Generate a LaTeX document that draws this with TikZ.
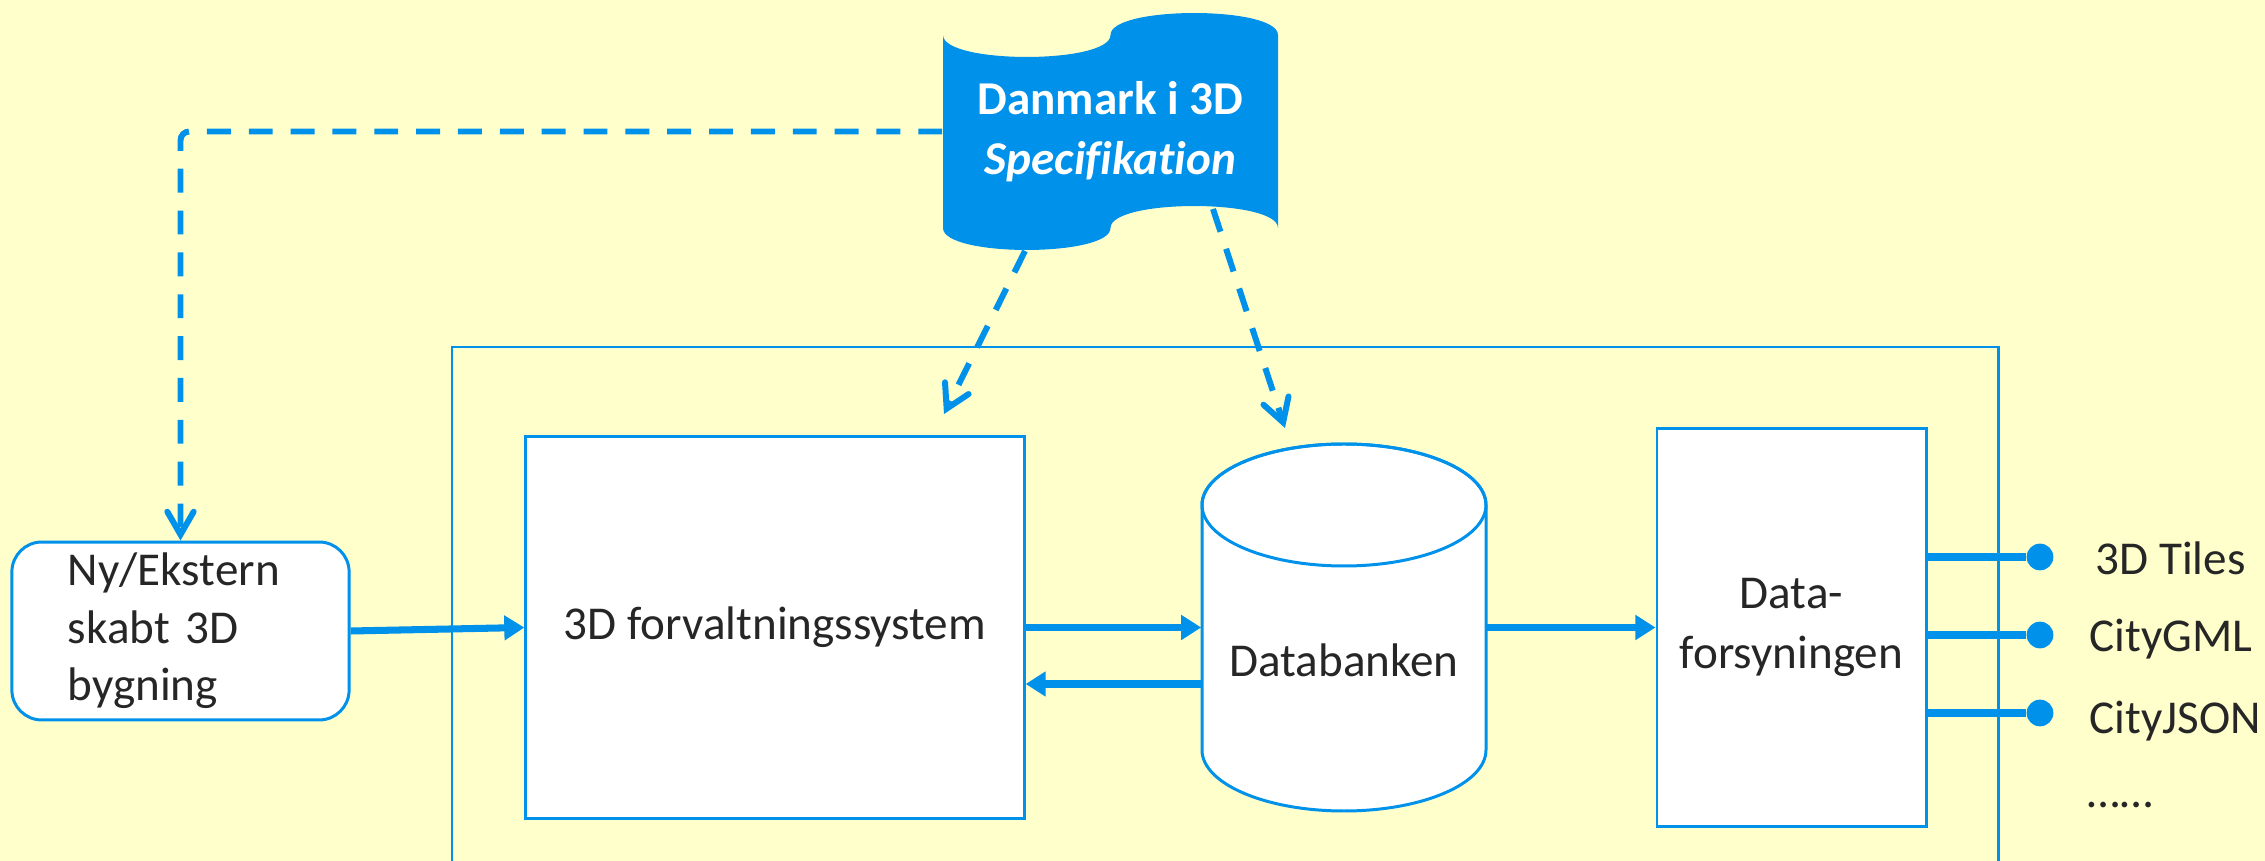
\documentclass[tikz,border=0pt]{standalone}
\usepackage{fontspec}
\setmainfont{Carlito}[Ligatures=NoCommon]
\usetikzlibrary{arrows.meta,calc}
\definecolor{bg}{RGB}{255,255,204}
\definecolor{azure}{RGB}{0,145,234}
\definecolor{ink}{RGB}{38,38,38}
\begin{document}
\begin{tikzpicture}[x=0.01cm,y=-0.01cm,
  every node/.style={text=ink, font=\fontsize{13.4}{16.3}\selectfont},
  frame/.style={draw=azure, line width=0.85pt},
  box/.style={draw=azure, line width=0.85pt, fill=white, inner sep=0pt},
  conn/.style={draw=azure, line width=2pt, -{Triangle[length=5.7pt,width=6.8pt]}},
  link/.style={draw=azure, line width=2pt},
  ref/.style={draw=azure, line width=1.7pt, dash pattern=on 6.8pt off 5.1pt,
    -{Straight Barb[length=6.5pt,width=7.5pt,line cap=round]}, rounded corners=2.5pt},
  dot/.style={circle, fill=azure, inner sep=0pt, minimum size=7.6pt},
  fmt/.style={anchor=base west, inner sep=0pt},
]
% canvas
\fill[bg] (0,0) rectangle (2265,861);
\useasboundingbox (0,0) rectangle (2265,861);

% system frame, open towards the bottom edge
\draw[frame] (452,861) -- (452,347) -- (1998,347) -- (1998,861);

% specification sheet (punched tape)
\fill[azure] (943,35) .. controls (943,64.3) and (1110.5,64.3) .. (1110.5,35)
  .. controls (1110.5,5.7) and (1278,5.7) .. (1278,35) -- (1278,228)
  .. controls (1278,198.7) and (1110.5,198.7) .. (1110.5,228)
  .. controls (1110.5,257.3) and (943,257.3) .. (943,228) -- cycle;
\node[minimum width=95.3pt, minimum height=54.9pt, align=center,
  font=\fontsize{13.4}{17}\selectfont\bfseries, text=white] (spec) at (1110.5,131.5)
  {Danmark i 3D\\\itshape Specifikation};

% source building
\node[box, rounded corners=8.5pt, minimum width=95.9pt, minimum height=50.6pt,
  text width=64pt, inner xsep=15.9pt, align=left] (ny) at (180.5,631)
  {Ny/Ekstern\\skabt 3D\\bygning};

% management system
\node[box, minimum width=141.7pt, minimum height=108.4pt] (fs) at (775,627.5)
  {3D forvaltningssystem};

% data bank cylinder
\path[box] (1202,505) -- (1202,750) arc[start angle=180, end angle=0, x radius=142, y radius=61]
  -- (1486,505) arc[start angle=0, end angle=-180, x radius=142, y radius=61] -- cycle;
\draw[azure, line width=0.85pt] (1344,505) ellipse[x radius=142, y radius=61];
\node[minimum width=80.8pt, minimum height=104.4pt, inner sep=0pt] (db) at (1344,627.5) {};
\node (dbtext) at (1344,660) {Databanken};

% data distribution
\node[box, minimum width=76.5pt, minimum height=113pt, align=center,
  font=\fontsize{13.4}{17}\selectfont] (df) at (1791.5,627.5) {Data-\\forsyningen};

% specification references
\coordinate (t1) at (1025,251);
\coordinate (h1) at (944,414);
\coordinate (t2) at (1213,209);
\coordinate (h2) at (1285,428);
\draw[ref] (spec.west) -| (ny.north);
\draw[ref] (t1) -- (h1);
\draw[ref] (t2) -- (h2);

% data flow
\draw[conn] (ny.east) -- (fs.west);
\draw[conn] (fs.east) -- (fs.east -| db.west);
\draw[conn] (db.west |- 0,684) -- (fs.east |- 0,684);
\draw[conn] (db.east) -- (df.west);

% output formats
\node[dot] (o1) at (2040,557) {};
\node[dot] (o2) at (2040,635) {};
\node[dot] (o3) at (2040,713) {};
\draw[link] (df.east |- o1) -- (o1);
\draw[link] (df.east |- o2) -- (o2);
\draw[link] (df.east |- o3) -- (o3);
\node[fmt] (f1) at (2095,575) {3D Tiles};
\node[fmt] (f2) at (2089,652) {CityGML};
\node[fmt] (f3) at (2089,734) {CityJSON};
\node[fmt] (f4) at (2087,808) {……};
\end{tikzpicture}
\end{document}
